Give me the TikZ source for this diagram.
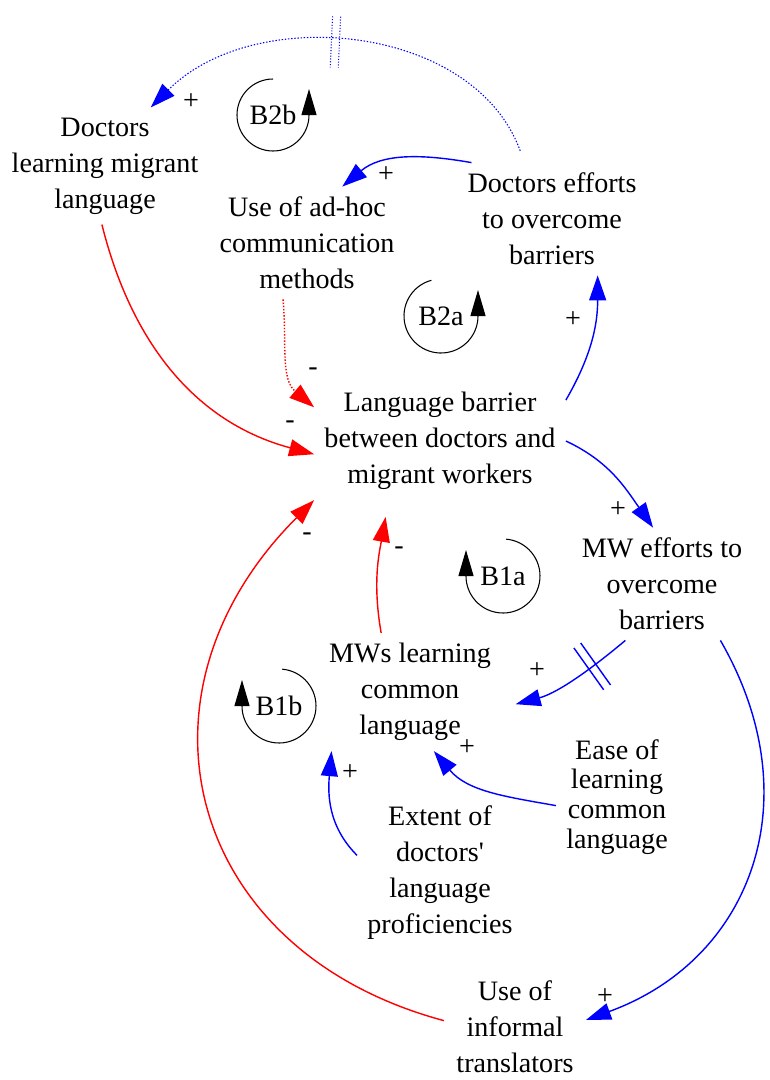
\documentclass[tikz,border=0pt]{standalone}
\usepackage{fontspec}
\setmainfont{Liberation Serif}
\usetikzlibrary{arrows.meta}

\begin{document}
\begin{tikzpicture}[x=0.02cm,y=0.02cm,
  >={Triangle[length=0.5cm,width=0.34cm]},
  var/.style={align=center,inner sep=0.2cm,font=\fontsize{16}{20.5}\selectfont},
  sgn/.style={inner sep=0pt,font=\fontsize{16}{20.5}\selectfont},
  pos link/.style={->,blue,line width=0.8pt},
  neg link/.style={->,red,line width=0.8pt},
  looparc/.style={-{Triangle[length=0.52cm,width=0.3cm]},line width=0.6pt},
  delay/.style={sloped,inner sep=0pt,minimum width=0.14cm,minimum height=1cm}]
\useasboundingbox (0,0) rectangle (769,-1080);

\node[var] (dlml) at (105,-166) {Doctors\\learning migrant\\language};
\node[var] (adhoc) at (307,-243) {Use of ad-hoc\\communication\\methods};
\node[var] (deff) at (552,-219) {Doctors efforts\\to overcome\\barriers};
\node[var] (lb) at (440,-441) {Language barrier\\between doctors and\\migrant workers};
\node[var] (mweff) at (662,-584) {MW efforts to\\overcome\\barriers};
\node[var] (mwl) at (410,-692) {MWs learning\\common\\language};
\node[var,font=\fontsize{16}{17}\selectfont] (ease) at (617,-797) {Ease of\\learning\\common\\language};
\node[var] (ext) at (440,-873) {Extent of\\doctors\textquotesingle\\language\\proficiencies};
\node[var,inner sep=0.1cm] (inf) at (515,-1027) {Use of\\informal\\translators};

\node[sgn] (b2b) at (273,-115) {B2b};
\node[sgn] (b2a) at (441,-316) {B2a};
\node[sgn] (b1a) at (503,-576) {B1a};
\node[sgn] (b1b) at (279,-706) {B1b};

\draw[looparc] (b2b.center) ++(90:36) arc[start angle=90,end angle=360,radius=36] -- ++(0,26);
\draw[looparc] (b2a.center) ++(105:37) arc[start angle=105,end angle=360,radius=37] -- ++(0,26);
\draw[looparc] (b1a.center) ++(85:37) arc[start angle=85,end angle=-180,radius=37] -- ++(0,26);
\draw[looparc] (b1b.center) ++(85:37) arc[start angle=85,end angle=-180,radius=37] -- ++(0,26);

\draw[pos link,densely dotted,line width=0.6pt,shorten <=0.25cm] (deff.116) to[out=110,in=45] node[delay,pos=0.55] (dl1) {} (dlml.52);
\draw[blue,densely dotted,line width=0.6pt] (dl1.north west) -- (dl1.south west) (dl1.north east) -- (dl1.south east);
\draw[pos link] (deff.145) to[out=170,in=40] (adhoc.58);
\draw[neg link,densely dotted] (adhoc.247) to[out=-85,in=140] (lb.165);
\draw[neg link] (dlml.267) to[out=-76,in=165] (lb.186);
\draw[pos link] (lb.18) to[out=60,in=-90] (deff.-51);
\draw[pos link] (lb.0) to[out=-25,in=125] (mweff.99);
\draw[pos link,shorten >=0.3cm] (mweff.237) to[out=220,in=15] node[delay,pos=0.28] (dl2) {} (mwl.350);
\draw[blue,line width=0.8pt] (dl2.north west) -- (dl2.south west) (dl2.north east) -- (dl2.south east);
\draw[pos link,shorten >=0.15cm] (mweff.316) to[out=-60,in=20,looseness=1.15] (inf.4);
\draw[neg link,shorten <=0.15cm] (inf.176) to[out=165,in=225,looseness=1.3] (lb.south west);
\draw[neg link,shorten >=0.34cm] (mwl.116) to[out=100,in=-100] (lb.229);
\draw[pos link] (ease.188) to[out=170,in=-50] (mwl.292);
\draw[pos link] (ext.168) to[out=135,in=-95] (mwl.217);

\node[sgn] (s1) at (191,-102) {+};
\node[sgn] (s2) at (386,-175) {+};
\node[sgn] (s3) at (313,-372) {-};
\node[sgn] (s4) at (290,-425) {-};
\node[sgn] (s5) at (573,-320) {+};
\node[sgn] (s6) at (618,-510) {+};
\node[sgn] (s7) at (537,-671) {+};
\node[sgn] (s8) at (605,-997) {+};
\node[sgn] (s9) at (307,-537) {-};
\node[sgn] (s10) at (399,-551) {-};
\node[sgn] (s11) at (467,-748) {+};
\node[sgn] (s12) at (350,-773) {+};
\end{tikzpicture}
\end{document}
